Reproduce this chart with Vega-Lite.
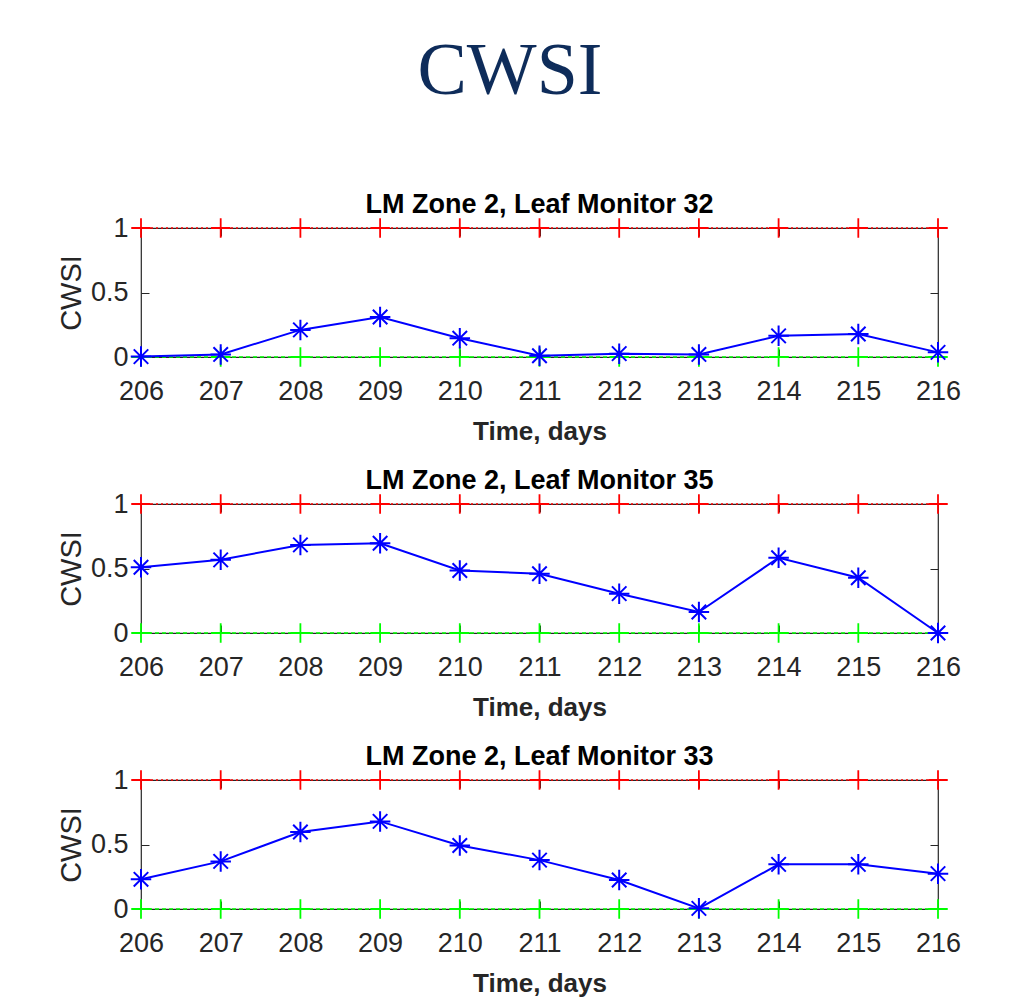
{
  "$schema": "https://vega.github.io/schema/vega-lite/v6.json",
  "background": "white",
  "padding": {"left": 56, "top": 35, "right": 5, "bottom": 5},
  "title": {"text": "CWSI", "font": "Liberation Serif", "fontSize": 74, "fontWeight": "normal", "color": "#0E2C5A", "anchor": "middle", "offset": 80, "dx": 1},
  "data": {"values": [
    {"monitor": 32, "day": 206, "cwsi": 0.003, "upper": 1, "lower": 0},
    {"monitor": 32, "day": 207, "cwsi": 0.02, "upper": 1, "lower": 0},
    {"monitor": 32, "day": 208, "cwsi": 0.21, "upper": 1, "lower": 0},
    {"monitor": 32, "day": 209, "cwsi": 0.31, "upper": 1, "lower": 0},
    {"monitor": 32, "day": 210, "cwsi": 0.146, "upper": 1, "lower": 0},
    {"monitor": 32, "day": 211, "cwsi": 0.01, "upper": 1, "lower": 0},
    {"monitor": 32, "day": 212, "cwsi": 0.026, "upper": 1, "lower": 0},
    {"monitor": 32, "day": 213, "cwsi": 0.02, "upper": 1, "lower": 0},
    {"monitor": 32, "day": 214, "cwsi": 0.164, "upper": 1, "lower": 0},
    {"monitor": 32, "day": 215, "cwsi": 0.178, "upper": 1, "lower": 0},
    {"monitor": 32, "day": 216, "cwsi": 0.036, "upper": 1, "lower": 0},
    {"monitor": 35, "day": 206, "cwsi": 0.51, "upper": 1, "lower": 0},
    {"monitor": 35, "day": 207, "cwsi": 0.567, "upper": 1, "lower": 0},
    {"monitor": 35, "day": 208, "cwsi": 0.683, "upper": 1, "lower": 0},
    {"monitor": 35, "day": 209, "cwsi": 0.696, "upper": 1, "lower": 0},
    {"monitor": 35, "day": 210, "cwsi": 0.485, "upper": 1, "lower": 0},
    {"monitor": 35, "day": 211, "cwsi": 0.459, "upper": 1, "lower": 0},
    {"monitor": 35, "day": 212, "cwsi": 0.305, "upper": 1, "lower": 0},
    {"monitor": 35, "day": 213, "cwsi": 0.163, "upper": 1, "lower": 0},
    {"monitor": 35, "day": 214, "cwsi": 0.583, "upper": 1, "lower": 0},
    {"monitor": 35, "day": 215, "cwsi": 0.428, "upper": 1, "lower": 0},
    {"monitor": 35, "day": 216, "cwsi": 0.0, "upper": 1, "lower": 0},
    {"monitor": 33, "day": 206, "cwsi": 0.23, "upper": 1, "lower": 0},
    {"monitor": 33, "day": 207, "cwsi": 0.369, "upper": 1, "lower": 0},
    {"monitor": 33, "day": 208, "cwsi": 0.597, "upper": 1, "lower": 0},
    {"monitor": 33, "day": 209, "cwsi": 0.679, "upper": 1, "lower": 0},
    {"monitor": 33, "day": 210, "cwsi": 0.492, "upper": 1, "lower": 0},
    {"monitor": 33, "day": 211, "cwsi": 0.379, "upper": 1, "lower": 0},
    {"monitor": 33, "day": 212, "cwsi": 0.225, "upper": 1, "lower": 0},
    {"monitor": 33, "day": 213, "cwsi": 0.005, "upper": 1, "lower": 0},
    {"monitor": 33, "day": 214, "cwsi": 0.346, "upper": 1, "lower": 0},
    {"monitor": 33, "day": 215, "cwsi": 0.346, "upper": 1, "lower": 0},
    {"monitor": 33, "day": 216, "cwsi": 0.274, "upper": 1, "lower": 0}
  ]},
  "bounds": "flush",
  "spacing": 147,
  "vconcat": [
    {
      "title": "LM Zone 2, Leaf Monitor 32",
      "width": 797, "height": 129,
      "transform": [{"filter": "datum.monitor === 32"}],
      "encoding": {"x": {"field": "day", "type": "quantitative", "scale": {"domain": [206, 216], "nice": false, "zero": false}, "axis": null}},
      "layer": [
        {"mark": {"type": "line", "color": "#ff0000", "strokeDash": [2, 3], "strokeWidth": 1.5},
         "encoding": {
           "x": {"field": "day", "type": "quantitative", "scale": {"domain": [206, 216], "nice": false, "zero": false}, "axis": {"orient": "top", "labels": false, "grid": false, "title": null, "values": [206,207,208,209,210,211,212,213,214,215,216]}},
           "y": {"field": "upper", "type": "quantitative", "scale": {"domain": [0, 1], "nice": false}, "axis": {"orient": "right", "labels": false, "grid": false, "title": null, "values": [0, 0.5, 1]}}}},
        {"mark": {"type": "point", "shape": "M-1,0L1,0M0,-1L0,1", "size": 380, "filled": false, "color": "#ff0000", "strokeWidth": 1.8, "opacity": 1},
         "encoding": {"y": {"field": "upper", "type": "quantitative", "scale": {"domain": [0, 1]}, "axis": null}}},
        {"mark": {"type": "line", "color": "#00ff00", "strokeDash": [4, 3], "strokeWidth": 1.5},
         "encoding": {"y": {"field": "lower", "type": "quantitative", "scale": {"domain": [0, 1]}, "axis": null}}},
        {"mark": {"type": "point", "shape": "M-1,0L1,0M0,-1L0,1", "size": 380, "filled": false, "color": "#00ff00", "strokeWidth": 1.8, "opacity": 1},
         "encoding": {"y": {"field": "lower", "type": "quantitative", "scale": {"domain": [0, 1]}, "axis": null}}},
        {"mark": {"type": "line", "color": "#0000ff", "strokeWidth": 2},
         "encoding": {
           "x": {"field": "day", "type": "quantitative", "scale": {"domain": [206, 216], "nice": false, "zero": false}, "axis": {"orient": "bottom", "title": "Time, days", "values": [206,207,208,209,210,211,212,213,214,215,216], "format": "d"}},
           "y": {"field": "cwsi", "type": "quantitative", "scale": {"domain": [0, 1], "nice": false}, "axis": {"orient": "left", "title": "CWSI", "values": [0, 0.5, 1], "format": "~g"}}}},
        {"mark": {"type": "point", "shape": "M-1,0L1,0M0,-1L0,1M-0.707,-0.707L0.707,0.707M-0.707,0.707L0.707,-0.707", "size": 420, "filled": false, "color": "#0000ff", "strokeWidth": 2, "opacity": 1},
         "encoding": {"y": {"field": "cwsi", "type": "quantitative", "scale": {"domain": [0, 1]}, "axis": null}}}
      ],
      "resolve": {"axis": {"x": "independent", "y": "independent"}}
    },
    {
      "title": "LM Zone 2, Leaf Monitor 35",
      "width": 797, "height": 129,
      "transform": [{"filter": "datum.monitor === 35"}],
      "encoding": {"x": {"field": "day", "type": "quantitative", "scale": {"domain": [206, 216], "nice": false, "zero": false}, "axis": null}},
      "layer": [
        {"mark": {"type": "line", "color": "#ff0000", "strokeDash": [2, 3], "strokeWidth": 1.5},
         "encoding": {
           "x": {"field": "day", "type": "quantitative", "scale": {"domain": [206, 216], "nice": false, "zero": false}, "axis": {"orient": "top", "labels": false, "grid": false, "title": null, "values": [206,207,208,209,210,211,212,213,214,215,216]}},
           "y": {"field": "upper", "type": "quantitative", "scale": {"domain": [0, 1], "nice": false}, "axis": {"orient": "right", "labels": false, "grid": false, "title": null, "values": [0, 0.5, 1]}}}},
        {"mark": {"type": "point", "shape": "M-1,0L1,0M0,-1L0,1", "size": 380, "filled": false, "color": "#ff0000", "strokeWidth": 1.8, "opacity": 1},
         "encoding": {"y": {"field": "upper", "type": "quantitative", "scale": {"domain": [0, 1]}, "axis": null}}},
        {"mark": {"type": "line", "color": "#00ff00", "strokeDash": [4, 3], "strokeWidth": 1.5},
         "encoding": {"y": {"field": "lower", "type": "quantitative", "scale": {"domain": [0, 1]}, "axis": null}}},
        {"mark": {"type": "point", "shape": "M-1,0L1,0M0,-1L0,1", "size": 380, "filled": false, "color": "#00ff00", "strokeWidth": 1.8, "opacity": 1},
         "encoding": {"y": {"field": "lower", "type": "quantitative", "scale": {"domain": [0, 1]}, "axis": null}}},
        {"mark": {"type": "line", "color": "#0000ff", "strokeWidth": 2},
         "encoding": {
           "x": {"field": "day", "type": "quantitative", "scale": {"domain": [206, 216], "nice": false, "zero": false}, "axis": {"orient": "bottom", "title": "Time, days", "values": [206,207,208,209,210,211,212,213,214,215,216], "format": "d"}},
           "y": {"field": "cwsi", "type": "quantitative", "scale": {"domain": [0, 1], "nice": false}, "axis": {"orient": "left", "title": "CWSI", "values": [0, 0.5, 1], "format": "~g"}}}},
        {"mark": {"type": "point", "shape": "M-1,0L1,0M0,-1L0,1M-0.707,-0.707L0.707,0.707M-0.707,0.707L0.707,-0.707", "size": 420, "filled": false, "color": "#0000ff", "strokeWidth": 2, "opacity": 1},
         "encoding": {"y": {"field": "cwsi", "type": "quantitative", "scale": {"domain": [0, 1]}, "axis": null}}}
      ],
      "resolve": {"axis": {"x": "independent", "y": "independent"}}
    },
    {
      "title": "LM Zone 2, Leaf Monitor 33",
      "width": 797, "height": 129,
      "transform": [{"filter": "datum.monitor === 33"}],
      "encoding": {"x": {"field": "day", "type": "quantitative", "scale": {"domain": [206, 216], "nice": false, "zero": false}, "axis": null}},
      "layer": [
        {"mark": {"type": "line", "color": "#ff0000", "strokeDash": [2, 3], "strokeWidth": 1.5},
         "encoding": {
           "x": {"field": "day", "type": "quantitative", "scale": {"domain": [206, 216], "nice": false, "zero": false}, "axis": {"orient": "top", "labels": false, "grid": false, "title": null, "values": [206,207,208,209,210,211,212,213,214,215,216]}},
           "y": {"field": "upper", "type": "quantitative", "scale": {"domain": [0, 1], "nice": false}, "axis": {"orient": "right", "labels": false, "grid": false, "title": null, "values": [0, 0.5, 1]}}}},
        {"mark": {"type": "point", "shape": "M-1,0L1,0M0,-1L0,1", "size": 380, "filled": false, "color": "#ff0000", "strokeWidth": 1.8, "opacity": 1},
         "encoding": {"y": {"field": "upper", "type": "quantitative", "scale": {"domain": [0, 1]}, "axis": null}}},
        {"mark": {"type": "line", "color": "#00ff00", "strokeDash": [4, 3], "strokeWidth": 1.5},
         "encoding": {"y": {"field": "lower", "type": "quantitative", "scale": {"domain": [0, 1]}, "axis": null}}},
        {"mark": {"type": "point", "shape": "M-1,0L1,0M0,-1L0,1", "size": 380, "filled": false, "color": "#00ff00", "strokeWidth": 1.8, "opacity": 1},
         "encoding": {"y": {"field": "lower", "type": "quantitative", "scale": {"domain": [0, 1]}, "axis": null}}},
        {"mark": {"type": "line", "color": "#0000ff", "strokeWidth": 2},
         "encoding": {
           "x": {"field": "day", "type": "quantitative", "scale": {"domain": [206, 216], "nice": false, "zero": false}, "axis": {"orient": "bottom", "title": "Time, days", "values": [206,207,208,209,210,211,212,213,214,215,216], "format": "d"}},
           "y": {"field": "cwsi", "type": "quantitative", "scale": {"domain": [0, 1], "nice": false}, "axis": {"orient": "left", "title": "CWSI", "values": [0, 0.5, 1], "format": "~g"}}}},
        {"mark": {"type": "point", "shape": "M-1,0L1,0M0,-1L0,1M-0.707,-0.707L0.707,0.707M-0.707,0.707L0.707,-0.707", "size": 420, "filled": false, "color": "#0000ff", "strokeWidth": 2, "opacity": 1},
         "encoding": {"y": {"field": "cwsi", "type": "quantitative", "scale": {"domain": [0, 1]}, "axis": null}}}
      ],
      "resolve": {"axis": {"x": "independent", "y": "independent"}}
    }
  ],
  "config": {
    "view": {"stroke": "#262626", "strokeWidth": 1.2},
    "axis": {
      "domain": false,
      "grid": true,
      "gridColor": "#d9d9d9",
      "gridWidth": 1,
      "ticks": true,
      "tickColor": "#262626",
      "tickSize": -8,
      "tickWidth": 1,
      "labelFont": "Liberation Sans, Arial, sans-serif",
      "labelFontSize": 27,
      "labelColor": "#262626",
      "titleFont": "Liberation Sans, Arial, sans-serif",
      "titleColor": "#262626"
    },
    "axisX": {"labelPadding": 29, "titleFontSize": 26, "titleFontWeight": "bold", "titlePadding": 14, "labelFlush": false},
    "axisY": {"labelPadding": 21, "titleFontSize": 29, "titleFontWeight": "normal", "titlePadding": 4},
    "title": {"font": "Liberation Sans, Arial, sans-serif", "fontSize": 27, "fontWeight": "bold", "color": "#000000", "anchor": "middle", "offset": -5}
  }
}
